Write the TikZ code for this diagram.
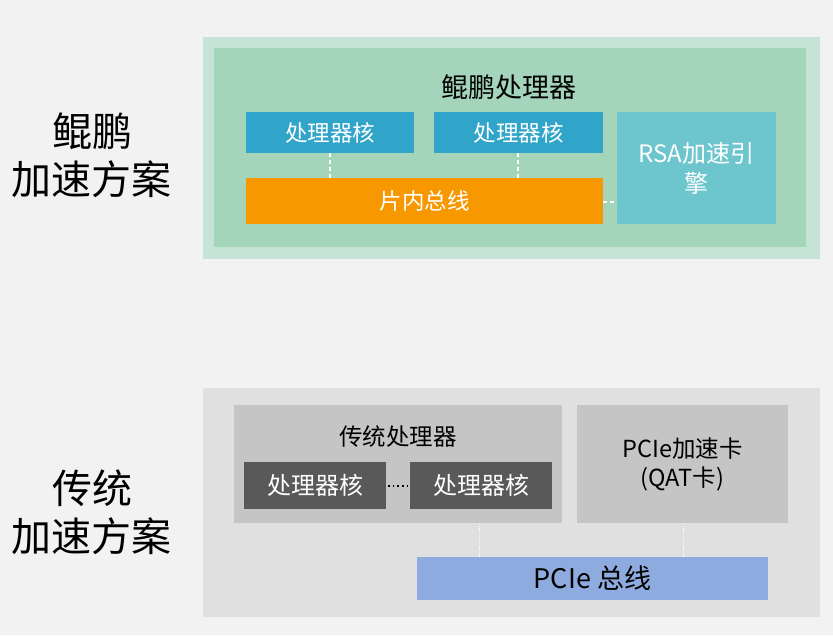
\documentclass[tikz,border=0pt]{standalone}
\usepackage{fontspec}
\setmainfont{Noto Sans CJK SC}
\definecolor{bgc}{HTML}{F2F2F2}
\definecolor{gouter}{HTML}{C6E4D6}
\definecolor{ginner}{HTML}{A4D5BA}
\definecolor{coreblue}{HTML}{30A4C9}
\definecolor{busorange}{HTML}{F79800}
\definecolor{rsac}{HTML}{6DC5CE}
\definecolor{gyouter}{HTML}{E0E0E0}
\definecolor{gymid}{HTML}{C5C5C5}
\definecolor{gydark}{HTML}{595959}
\definecolor{pciebus}{HTML}{8EABDF}
\begin{document}
\begin{tikzpicture}[x=1pt,y=-1pt,
  box/.style={draw=none,inner sep=0pt,outer sep=0pt},
  wdash/.style={draw=white,line width=1.6pt,dash pattern=on 4pt off 3pt},
  wdot/.style={draw=white,line width=1pt,dash pattern=on 1.2pt off 1.5pt},
  lab/.style={font=\fontsize{40}{48}\selectfont,align=center,text=black}]
\fill[bgc] (0,0) rectangle (833,635);
\useasboundingbox (0,0) rectangle (833,635);
% top
\fill[gouter] (203,37) rectangle (820,259);
\fill[ginner] (214,48) rectangle (806,247);
\node[font=\fontsize{27}{32}\selectfont] (ttl) at (509,87) {鲲鹏处理器};
\path[fill=coreblue] (246,112) rectangle (414,153) node[box,pos=.5,text=white,font=\fontsize{22.5}{27}\selectfont] (c1) {处理器核};
\coordinate (c1b) at (330,153);
\path[fill=coreblue] (434,112) rectangle (603,153) node[box,pos=.5,text=white,font=\fontsize{22.5}{27}\selectfont] (c2) {处理器核};
\coordinate (c2b) at (518,153);
\path[fill=busorange] (246,178) rectangle (603,224) node[box,pos=.5,text=white,font=\fontsize{22.5}{27}\selectfont] (bus) {片内总线};
\coordinate (b1) at (330,178);
\coordinate (b2) at (518,178);
\coordinate (br) at (603,202);
\path[fill=rsac] (617,112) rectangle (776,224) node[box,pos=.5,text=white,align=center,font=\fontsize{24}{30}\selectfont] (rsa) {RSA加速引\\擎};
\coordinate (rl) at (617,202);
\draw[wdash] (c1b) -- (b1);
\draw[wdash] (c2b) -- (b2);
\draw[wdash] (br) -- (rl);
\node[lab] (l1) at (92,155) {鲲鹏\\加速方案};
% bottom
\fill[gyouter] (203,388) rectangle (820,617);
\path[fill=gymid] (234,405) rectangle (562,523);
\node[font=\fontsize{23.5}{28}\selectfont] (tp) at (398,437) {传统处理器};
\path[fill=gydark] (244,462) rectangle (386,509) node[box,pos=.5,text=white,font=\fontsize{24}{28}\selectfont] (d1) {处理器核};
\path[fill=gydark] (410,462) rectangle (552,509) node[box,pos=.5,text=white,font=\fontsize{24}{28}\selectfont] (d2) {处理器核};
\coordinate (d1r) at (388,486);
\coordinate (d2l) at (410,486);
\draw[black,line width=1.5pt,dash pattern=on 1.5pt off 3.2pt] (d1r) -- (d2l);
\path[fill=gymid] (577,405) rectangle (788,523) node[box,pos=.5,align=center,font=\fontsize{23.5}{29}\selectfont] (card) {PCIe加速卡\\(QAT卡)};
\path[fill=pciebus] (417,557) rectangle (768,600) node[box,pos=.5,font=\fontsize{27}{32}\selectfont] (pbus) {PCIe 总线};
\coordinate (tpb) at (479,523);
\coordinate (cdb) at (683,523);
\coordinate (pb1) at (479,557);
\coordinate (pb2) at (683,557);
\draw[wdot] (tpb) -- (pb1);
\draw[wdot] (cdb) -- (pb2);
\node[lab] (l2) at (92,512) {传统\\加速方案};
\end{tikzpicture}
\end{document}
